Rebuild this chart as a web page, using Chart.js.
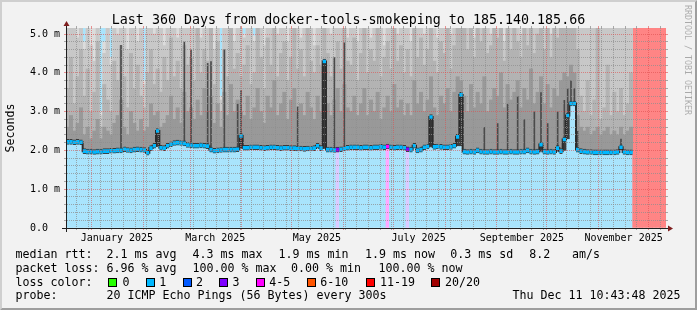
<!DOCTYPE html>
<html><head><meta charset="utf-8">
<script src="https://cdn.jsdelivr.net/npm/chart.js@4.4.1/dist/chart.umd.min.js"></script>
<style>
html,body{margin:0;padding:0;background:#f2f2f2;overflow:hidden}
canvas{display:block}
</style></head>
<body>
<canvas id="c" width="697" height="310"></canvas>
<script>
// ---------------- DATA ----------------
const TITLE = 'Last 360 Days from docker-tools-smokeping to 185.140.185.66';
const Y_TITLE = 'Seconds';
const WATERMARK = 'RRDTOOL / TOBI OETIKER';
// time axis: days relative to 2025-01-01 00:00
const X_MIN_DAY = -15.553;   // Mon Dec 16 2024 10:43:48
const X_MAX_DAY = 344.447;   // Thu Dec 11 2025 10:43:48
const STEP_DAYS = 2;
const Y_MAX = 5.155;         // ms
const Y_STEP = 0.2;
const MONTH_START_DAYS = [0, 31, 59, 90, 120, 151, 181, 212, 243, 273, 304, 334];
const FIRST_MONDAY_DAY = -9;
const MONTH_LABEL_DAYS = [15, 74, 135, 196, 258, 319];
const MONTH_LABELS = ['January 2025', 'March 2025', 'May 2025', 'July 2025', 'September 2025', 'November 2025'];
const Y_LABEL_TEXT = ['0.0  ', '1.0 m', '2.0 m', '3.0 m', '4.0 m', '5.0 m'];

// median rtt per 2-day step (ms)
const median = [
 2.22,2.22,2.21,2.22,2.21,1.98,1.97,1.97,1.96,1.97,
 1.97,1.98,1.98,1.99,1.99,2.00,2.00,2.03,2.01,2.00,
 2.02,2.03,2.02,2.01,1.94,2.06,2.12,2.50,2.07,2.06,
 2.12,2.16,2.19,2.20,2.19,2.18,2.14,2.13,2.12,2.12,
 2.13,2.12,2.11,2.02,1.99,2.00,2.01,2.02,2.02,2.02,
 2.02,2.03,2.37,2.07,2.07,2.08,2.08,2.08,2.07,2.06,
 2.07,2.08,2.08,2.07,2.06,2.07,2.07,2.06,2.06,2.05,
 2.05,2.04,2.05,2.05,2.06,2.12,2.06,4.29,2.02,2.02,
 2.01,2.02,2.03,2.05,2.07,2.08,2.08,2.08,2.07,2.08,
 2.08,2.07,2.08,2.08,2.09,2.08,2.10,2.08,2.07,2.08,
 2.08,2.07,2.03,2.02,2.12,2.00,2.02,2.08,2.10,2.86,
 2.09,2.10,2.09,2.08,2.08,2.09,2.12,2.35,3.43,1.97,
 1.96,1.97,1.96,2.00,1.97,1.96,1.96,1.97,1.96,1.96,
 1.97,1.96,1.96,1.97,1.96,1.96,1.97,1.97,2.00,1.97,
 1.96,1.97,2.15,1.97,1.96,1.97,1.96,2.06,1.98,2.28,
 2.90,3.21,3.21,2.02,1.98,1.97,1.96,1.96,1.95,1.95,
 1.95,1.95,1.95,1.95,1.95,1.96,2.08,1.96,1.95,1.95
];
// smoke: highest pings (20th, 19th, 17th, 14th of 20), values above 5.2 are off-chart
const ping20 = [
 5.2,5.2,5.2,5.2,5.2,4.8,5.2,5.2,5.2,5.2,
 3.0,4.8,5.2,4.4,5.2,5.2,5.2,5.2,5.2,5.2,
 5.2,5.2,5.2,3.8,5.2,5.2,5.2,5.2,5.2,5.2,
 5.2,5.2,5.2,5.2,5.2,5.2,5.2,5.2,5.2,5.2,
 5.2,5.2,5.2,5.2,5.2,5.2,3.4,5.2,5.2,5.2,
 5.2,5.2,5.2,5.0,5.2,5.2,4.95,5.2,5.2,5.2,
 5.2,5.2,5.2,5.2,5.2,5.2,5.2,5.2,5.2,5.2,
 5.2,5.2,5.2,5.2,5.2,5.2,5.2,5.2,5.2,5.2,
 5.2,5.2,5.2,5.2,5.2,5.2,5.2,5.2,5.2,5.2,
 5.2,5.2,5.2,5.2,5.2,5.2,5.2,5.2,5.2,5.2,
 5.2,5.2,5.2,5.2,5.2,5.2,5.2,5.2,5.2,5.2,
 5.2,5.2,5.2,5.2,5.2,5.2,5.2,5.2,5.2,5.2,
 5.2,5.2,5.2,5.2,5.2,5.2,5.2,5.2,5.2,5.2,
 5.2,5.2,5.2,5.2,5.2,5.2,5.2,5.2,5.2,5.2,
 5.2,5.2,5.2,5.2,5.2,5.2,5.2,5.2,5.2,5.2,
 5.2,5.2,5.2,5.2,5.2,5.2,5.2,5.2,5.2,5.2,
 5.2,5.2,5.2,5.2,5.2,5.2,5.2,5.2,5.2,5.2
];
const ping19 = [
 5.2,5.2,5.2,4.9,5.2,4.6,5.2,4.7,4.3,5.2,
 2.9,4.5,5.2,4.2,5.2,5.0,5.2,5.2,4.6,5.2,
 5.2,4.8,5.2,3.7,5.2,5.2,5.0,5.2,5.2,4.7,
 5.2,5.2,5.2,4.9,5.2,5.2,5.2,5.2,5.2,5.2,
 4.9,5.2,5.2,5.2,4.6,5.2,3.3,5.2,5.2,5.2,
 4.8,5.2,5.2,4.9,5.2,5.2,4.8,5.2,5.2,4.7,
 5.2,5.2,5.2,5.0,5.2,5.2,4.8,5.2,5.2,5.2,
 4.9,5.2,5.2,5.2,4.7,5.2,5.2,5.2,5.2,5.0,
 5.2,5.2,5.2,5.2,4.9,5.2,5.2,4.8,5.2,5.2,
 5.2,4.9,5.2,5.2,5.2,4.7,5.2,5.2,5.2,5.0,
 5.2,5.2,5.2,4.8,5.2,5.2,5.2,5.0,5.2,5.2,
 5.2,4.9,5.2,5.2,5.2,5.0,5.2,5.2,5.2,5.2,
 5.2,5.2,4.9,5.2,5.2,5.2,5.2,5.0,5.2,5.2,
 5.2,4.8,5.2,5.2,5.2,5.2,5.0,5.2,5.2,5.2,
 5.2,5.2,5.2,5.2,5.2,5.0,5.2,5.2,5.2,5.2,
 5.2,5.2,5.2,5.2,5.2,5.2,5.2,5.2,5.2,5.2,
 5.2,5.2,5.2,5.2,5.2,5.2,5.2,5.2,5.2,5.2
];
const ping17 = [
 3.6,4.4,3.2,3.9,4.6,3.4,4.1,3.0,3.5,4.8,
 2.6,3.7,3.3,3.0,4.3,3.8,4.7,3.9,3.1,4.5,
 3.6,4.2,3.4,3.1,4.0,4.6,3.7,4.1,3.5,4.4,
 3.8,4.9,3.9,4.3,3.6,4.7,4.2,4.4,3.8,5.2,
 4.0,4.6,4.3,5.2,3.7,4.8,3.0,4.6,3.9,5.2,
 4.1,4.5,3.9,4.2,4.7,3.7,4.0,5.2,4.4,3.6,
 4.9,4.2,5.2,3.9,4.5,4.8,3.8,4.4,5.2,4.1,
 4.6,3.9,5.2,4.3,4.0,4.7,4.2,5.2,4.5,3.9,
 4.4,4.8,4.1,5.2,4.3,4.2,4.9,3.8,4.5,5.2,
 4.0,4.6,4.3,5.2,3.9,4.4,4.8,4.1,5.2,4.3,
 4.7,4.0,4.6,3.9,5.2,4.4,4.9,4.2,4.6,5.2,
 4.3,4.0,4.8,4.5,5.2,4.1,4.7,5.2,5.2,5.2,
 4.6,5.2,4.4,5.2,4.8,5.2,4.5,4.7,5.2,4.9,
 5.2,4.3,5.2,4.6,5.2,4.8,4.4,5.2,4.7,5.2,
 4.5,5.0,5.2,4.6,5.2,4.4,5.2,4.9,5.2,5.2,
 5.2,5.2,5.2,4.6,3.4,3.0,3.8,2.9,3.3,5.2,
 2.8,3.1,4.2,2.9,3.5,3.0,3.6,2.9,3.2,4.0
];
const ping14 = [
 2.6,2.9,2.5,2.7,3.1,2.4,2.6,2.3,2.5,2.8,
 2.3,2.6,2.5,2.4,2.7,2.9,3.3,2.6,2.4,3.0,
 2.7,2.5,2.8,2.5,2.6,3.2,2.9,3.0,2.6,2.7,
 2.9,3.4,2.8,3.1,2.7,3.5,3.0,3.1,2.8,3.3,
 2.9,3.6,3.0,3.4,2.7,3.2,2.6,3.5,2.9,3.7,
 3.0,3.3,3.0,2.9,3.4,2.8,3.1,3.6,3.0,2.7,
 3.4,3.1,3.8,2.9,3.2,3.5,2.8,3.3,3.6,3.0,
 3.2,2.9,3.5,3.1,2.8,3.4,3.0,4.3,3.2,2.9,
 3.3,3.6,3.0,3.7,3.1,3.0,3.4,2.9,3.2,3.6,
 2.9,3.3,3.0,3.5,2.8,3.1,3.4,3.0,3.7,3.1,
 3.3,2.9,3.2,2.9,3.8,3.2,3.5,3.0,3.3,3.9,
 3.1,2.9,3.4,3.2,3.6,3.0,3.5,3.9,3.8,3.4,
 3.0,3.7,3.1,3.5,3.2,3.9,3.0,3.3,3.6,3.4,
 4.0,3.1,3.7,3.3,3.5,3.8,3.1,3.6,3.3,4.1,
 3.2,3.5,3.9,3.2,3.7,3.1,3.6,3.4,3.8,4.0,
 3.9,4.2,4.0,2.9,2.6,2.5,2.6,2.4,2.5,2.6,
 2.4,2.5,2.6,2.4,2.5,2.4,2.6,2.4,2.5,2.6
];
// top of the dense (dark) core of the smoke where it reaches far above the median
const darkCore = [
 null,null,null,null,null,null,null,null,null,null,
 null,null,null,null,null,null,4.72,null,null,null,
 null,null,null,null,null,null,null,null,null,null,
 null,null,null,null,null,4.8,null,4.6,null,null,
 null,null,4.25,4.3,null,null,null,4.6,null,null,
 null,3.2,3.56,null,null,null,null,null,null,null,
 null,null,null,null,null,null,null,null,null,3.13,
 null,null,null,null,null,null,null,4.3,null,null,
 4.4,null,null,4.78,null,null,null,null,null,null,
 null,null,null,null,null,null,null,null,null,null,
 null,null,null,null,null,null,null,null,null,2.86,
 null,null,null,null,null,null,null,null,3.43,null,
 null,null,null,null,null,2.6,null,null,null,2.7,
 null,null,3.2,null,null,3.4,null,2.8,null,null,
 3.0,null,3.5,null,2.7,null,null,3.0,null,3.3,
 3.6,3.8,3.6,2.5,null,null,null,null,null,null,
 null,null,null,null,null,null,2.3,null,null,null
];
// bottom of the dense smoke core under median spikes
const lowCore = [
 null,null,null,null,null,null,null,null,null,null,
 null,null,null,null,null,null,null,null,null,null,
 null,null,null,null,null,null,null,2.10,null,null,
 null,null,null,null,null,null,null,null,null,null,
 null,null,null,null,null,null,null,null,null,null,
 null,null,2.05,null,null,null,null,null,null,null,
 null,null,null,null,null,null,null,null,null,null,
 null,null,null,null,null,null,null,2.05,null,null,
 null,null,null,null,null,null,null,null,null,null,
 null,null,null,null,null,null,null,null,null,null,
 null,null,null,null,null,null,null,null,null,2.10,
 null,null,null,null,null,null,null,2.12,2.12,null,
 null,null,null,null,null,null,null,null,null,null,
 null,null,null,null,null,null,null,null,null,null,
 null,null,1.98,null,null,null,null,1.98,null,2.00,
 2.30,null,null,null,null,null,null,null,null,null,
 null,null,null,null,null,null,null,null,null,null
];
// lost pings (of 20) per step; last steps are total loss
const lostPings = [
 1,1,1,1,1,1,1,1,1,1, 1,1,1,1,1,1,1,1,1,1, 1,1,1,1,1,1,1,1,1,1,
 1,1,1,1,1,1,1,1,1,1, 1,1,1,1,1,1,1,1,1,1, 1,1,1,1,1,1,1,1,1,1,
 1,1,1,1,1,1,1,1,1,1, 1,1,1,1,1,1,1,1,1,1, 1,3,1,1,1,1,1,1,1,1,
 1,1,1,1,1,1,5,1,1,1, 1,1,3,1,1,1,1,1,1,1, 1,1,1,1,1,1,1,1,1,1,
 1,1,1,1,1,1,1,1,1,1, 1,1,1,1,1,1,1,1,1,1, 1,1,1,1,1,1,1,1,1,1,
 1,1,1,1,1,1,1,1,1,1, 1,1,1,1,1,1,1,1,1,1,
 20,20,20,20,20,20,20,20,20,20,20
];
const LOSS_LABELS = ['0', '1', '2', '3', '4-5', '6-10', '11-19', '20/20'];
const LOSS_MAX = [0, 1, 2, 3, 5, 10, 19, 20];
const STATS_ROWS = [
 [['median rtt:', 15.4], ['2.1 ms avg', 106.6], ['4.3 ms max', 192.6], ['1.9 ms min', 278.6], ['1.9 ms now', 365.0], ['0.3 ms sd', 450.3], ['8.2', 529.3], ['am/s', 572.0]],
 [['packet loss:', 15.4], ['6.96 % avg', 106.6], ['100.00 % max', 192.6], ['0.00 % min', 291.0], ['100.00 % now', 378.6]],
 [['loss color:', 15.4]],
 [['probe:', 15.4], ['20 ICMP Echo Pings (56 Bytes) every 300s', 106.6], ['Thu Dec 11 10:43:48 2025', 512.6]]
];

// ---------------- STYLE ----------------
const MONO = '"DejaVu Sans Mono", monospace';
const LOSS_COLORS = ['#26ff00', '#00b8ff', '#0059ff', '#7e00ff', '#ff00ff', '#ff5500', '#ff0000', '#a10000'];
const LOSS_BG = ['#c4ffb8', '#a9e4fc', '#b8d0ff', '#dccaff', '#ffa8ff', '#ffc6b0', '#ff9a9a', '#ff8585'];
const SMOKE_COLORS = ['#dcdcdc', '#c8c8c8', '#b3b3b3', '#999999', '#4a4a4a'];
const LOWCORE_COLOR = '#3c3c3c';
const MEDIAN_HALF = 0.064;
const C_GRID = 'rgba(143,143,143,0.75)';
const C_MGRID = 'rgba(222,79,79,0.6)';
const NONE = 'rgba(0,0,0,0)';
const ROW_BASELINES = [258.3, 271.7, 285.5, 299];
const SWATCH_X = [108.3, 145.7, 182.7, 219.3, 256, 306.7, 365.7, 430.7];
const SWATCH_LABEL_X = [122.6, 159.3, 196, 232.6, 269.3, 320.3, 380, 445];

// ---------------- HELPERS ----------------
const colX = k => X_MIN_DAY + STEP_DAYS * (k + 0.5);
const bucketOf = n => { for (let i = 0; i < LOSS_MAX.length; i++) if (n <= LOSS_MAX[i]) return i; return LOSS_MAX.length - 1; };
const near = (a, b) => Math.abs(a - b) < 1e-6;
const minorXGrid = [];
for (let d = FIRST_MONDAY_DAY; d < X_MAX_DAY; d += 7) if (d > X_MIN_DAY && !MONTH_START_DAYS.includes(d)) minorXGrid.push(d);
const X_GRID_TICKS = [...MONTH_START_DAYS, ...minorXGrid].sort((a, b) => a - b);
const X_ALL_TICKS = [...X_GRID_TICKS, ...MONTH_LABEL_DAYS].sort((a, b) => a - b);
const Y_GRID_TICKS = [];
for (let i = 0; i * Y_STEP <= 5.0001; i++) Y_GRID_TICKS.push(Math.round(i * Y_STEP * 10) / 10);
const isMonth = v => MONTH_START_DAYS.some(d => near(d, v));
const isLabel = v => MONTH_LABEL_DAYS.some(d => near(d, v));
const isMajorY = v => near(v, Math.round(v));
const xGridColor = c => !c.tick ? C_GRID : isMonth(c.tick.value) ? C_MGRID : isLabel(c.tick.value) ? NONE : C_GRID;
const yGridColor = c => !c.tick ? C_GRID : near(c.tick.value, 0) ? NONE : isMajorY(c.tick.value) ? C_MGRID : C_GRID;
const yTickColor = c => !c.tick ? C_GRID : isMajorY(c.tick.value) ? C_MGRID : C_GRID;

// ---------------- DATASETS ----------------
const AX = { xAxisID: 'x', yAxisID: 'y' };
const datasets = [];
datasets.push({
  ...AX, type: 'bar', label: 'loss background',
  data: lostPings.map((n, k) => ({ x: colX(k), y: [0, Y_MAX] })),
  backgroundColor: lostPings.map(n => LOSS_BG[bucketOf(n)]), order: 20
});
[ping20, ping19, ping17, ping14, darkCore].forEach((arr, i) => {
  datasets.push({
    ...AX, type: 'bar', label: 'smoke ' + i,
    data: arr.map((v, k) => ({ x: colX(k), y: (v != null && v > median[k]) ? [median[k], v] : null })).filter(p => p.y),
    backgroundColor: SMOKE_COLORS[i], order: 15 - i,
    barPercentage: i === 4 ? 0.5 : 1
  });
});
datasets.push({
  ...AX, type: 'bar', label: 'smoke low core',
  data: lowCore.map((v, k) => ({ x: colX(k), y: v != null ? [v, median[k]] : null })).filter(p => p.y),
  backgroundColor: LOWCORE_COLOR, order: 9
});
datasets.push({
  ...AX, type: 'line', label: 'median edge',
  data: median.map((v, k) => ({ x: colX(k), y: v })),
  borderColor: '#2c2c2c', borderWidth: 2, stepped: 'middle', pointRadius: 0, fill: false,
  borderJoinStyle: 'miter', order: 3
});
datasets.push({
  ...AX, type: 'bar', label: 'median rtt',
  data: median.map((v, k) => ({ x: colX(k), y: [v - MEDIAN_HALF, v + MEDIAN_HALF] })),
  backgroundColor: median.map((v, k) => LOSS_COLORS[bucketOf(lostPings[k])]),
  borderColor: 'rgba(40,40,40,0.85)', borderWidth: { top: 1, bottom: 1, left: 0, right: 0 }, borderSkipped: false,
  order: 1
});

// ---------------- PLUGIN (frame, title, legend, arrows) ----------------
const deco = {
  id: 'deco',
  beforeDraw(chart) {
    const ctx = chart.ctx, W = chart.width, H = chart.height;
    ctx.save();
    ctx.fillStyle = '#f2f2f2'; ctx.fillRect(0, 0, W, H);
    ctx.fillStyle = '#cfcfcf';
    ctx.beginPath(); ctx.moveTo(0, H); ctx.lineTo(2, H - 2); ctx.lineTo(2, 2); ctx.lineTo(W - 2, 2); ctx.lineTo(W, 0); ctx.lineTo(0, 0); ctx.closePath(); ctx.fill();
    ctx.fillStyle = '#9e9e9e';
    ctx.beginPath(); ctx.moveTo(2, H - 2); ctx.lineTo(W - 2, H - 2); ctx.lineTo(W - 2, 2); ctx.lineTo(W, 0); ctx.lineTo(W, H); ctx.lineTo(0, H); ctx.closePath(); ctx.fill();
    ctx.restore();
  },
  afterDraw(chart) {
    const ctx = chart.ctx, a = chart.chartArea;
    const X0 = Math.round(a.left), X1 = Math.round(a.right), Y0 = Math.round(a.bottom), YT = Math.round(a.top);
    ctx.save();
    ctx.strokeStyle = '#1f1f1f'; ctx.lineWidth = 1;
    ctx.beginPath(); ctx.moveTo(X0 - 4, Y0 + 0.5); ctx.lineTo(X1 + 4, Y0 + 0.5); ctx.stroke();
    ctx.beginPath(); ctx.moveTo(X0 + 0.5, Y0 + 4); ctx.lineTo(X0 + 0.5, YT - 4); ctx.stroke();
    ctx.fillStyle = '#7f1f1f';
    ctx.beginPath(); ctx.moveTo(X1 + 2, Y0 - 2.5); ctx.lineTo(X1 + 2, Y0 + 3.5); ctx.lineTo(X1 + 7, Y0 + 0.5); ctx.closePath(); ctx.fill();
    ctx.beginPath(); ctx.moveTo(X0 - 2.5, YT - 2); ctx.lineTo(X0 + 3.5, YT - 2); ctx.lineTo(X0 + 0.5, YT - 7); ctx.closePath(); ctx.fill();
    ctx.fillStyle = '#000'; ctx.textBaseline = 'alphabetic'; ctx.textAlign = 'center';
    ctx.font = '13.33px ' + MONO;
    ctx.fillText(TITLE, chart.width / 2, 24);
    ctx.save();
    ctx.translate(685, 5); ctx.rotate(Math.PI / 2);
    ctx.textAlign = 'left'; ctx.fillStyle = 'rgba(0,0,0,0.3)'; ctx.font = '8.3px ' + MONO;
    ctx.fillText(WATERMARK, 0, 0);
    ctx.restore();
    ctx.textAlign = 'left'; ctx.fillStyle = '#000'; ctx.font = '11.63px ' + MONO;
    STATS_ROWS.forEach((row, r) => row.forEach(([t, x]) => ctx.fillText(t, x, ROW_BASELINES[r])));
    LOSS_LABELS.forEach((lab, i) => {
      const sx = Math.round(SWATCH_X[i]), sy = 278;
      ctx.fillStyle = LOSS_COLORS[i]; ctx.fillRect(sx, sy, 8, 8);
      ctx.strokeStyle = '#000'; ctx.lineWidth = 1; ctx.strokeRect(sx + 0.5, sy + 0.5, 8, 8);
      ctx.fillStyle = '#000'; ctx.fillText(lab, SWATCH_LABEL_X[i], ROW_BASELINES[2]);
    });
    ctx.restore();
  }
};

// ---------------- CHART ----------------
const gridX = { type: 'linear', min: X_MIN_DAY, max: X_MAX_DAY, offset: false };
new Chart(document.getElementById('c'), {
  type: 'bar',
  data: { datasets },
  plugins: [deco],
  options: {
    responsive: false, devicePixelRatio: 1, animation: false, events: [],
    layout: { padding: 0 },
    datasets: { bar: { grouped: false, barPercentage: 1, categoryPercentage: 1, borderWidth: 0 } },
    plugins: { legend: { display: false }, title: { display: false }, tooltip: { enabled: false } },
    scales: {
      x: { type: 'linear', min: X_MIN_DAY, max: X_MAX_DAY, offset: false, display: false, grid: { offset: false } },
      xg: {
        ...gridX, position: 'bottom',
        afterFit: s => { s.height = 82; },
        afterBuildTicks: s => { s.ticks = X_ALL_TICKS.map(v => ({ value: v })); },
        ticks: {
          autoSkip: false, maxRotation: 0, minRotation: 0, padding: 2, color: '#000',
          font: { family: MONO, size: 10 },
          callback: v => { const i = MONTH_LABEL_DAYS.findIndex(d => near(d, v)); return i >= 0 ? MONTH_LABELS[i] : ''; }
        },
        grid: { z: 1, offset: false, color: xGridColor, lineWidth: 1, tickLength: 2, tickWidth: 1, tickColor: xGridColor, tickBorderDash: [] },
        border: { z: 1, display: true, color: '#1f1f1f', width: 1, dash: [1, 1] }
      },
      x2: {
        ...gridX, position: 'top',
        afterFit: s => { s.height = 28; },
        afterBuildTicks: s => { s.ticks = X_GRID_TICKS.map(v => ({ value: v })); },
        ticks: { display: false, autoSkip: false },
        grid: { z: 1, offset: false, drawOnChartArea: false, tickLength: 2, tickWidth: 1, color: xGridColor, tickColor: xGridColor, tickBorderDash: [] },
        border: { display: false }
      },
      y: {
        type: 'linear', position: 'left', min: 0, max: Y_MAX,
        afterFit: s => { s.width = 66; },
        afterBuildTicks: s => { s.ticks = Y_GRID_TICKS.map(v => ({ value: v })); },
        ticks: {
          autoSkip: false, padding: 4, color: '#000', font: { family: MONO, size: 10 },
          callback: v => isMajorY(v) ? Y_LABEL_TEXT[Math.round(v)] : ''
        },
        grid: { z: 1, color: yGridColor, lineWidth: 1, tickLength: 2, tickWidth: 1, tickColor: yTickColor, tickBorderDash: [] },
        border: { z: 1, display: true, color: '#1f1f1f', width: 1, dash: [1, 1] },
        title: { display: true, text: Y_TITLE, color: '#000', font: { family: MONO, size: 11.63 }, padding: { top: 4, bottom: 0 } }
      },
      y2: {
        type: 'linear', position: 'right', min: 0, max: Y_MAX,
        afterFit: s => { s.width = 31; },
        afterBuildTicks: s => { s.ticks = Y_GRID_TICKS.map(v => ({ value: v })); },
        ticks: { display: false, autoSkip: false },
        grid: { z: 1, drawOnChartArea: false, tickLength: 2, tickWidth: 1, color: yTickColor, tickColor: yTickColor, tickBorderDash: [] },
        border: { display: false }
      }
    }
  }
});
</script>
</body></html>
